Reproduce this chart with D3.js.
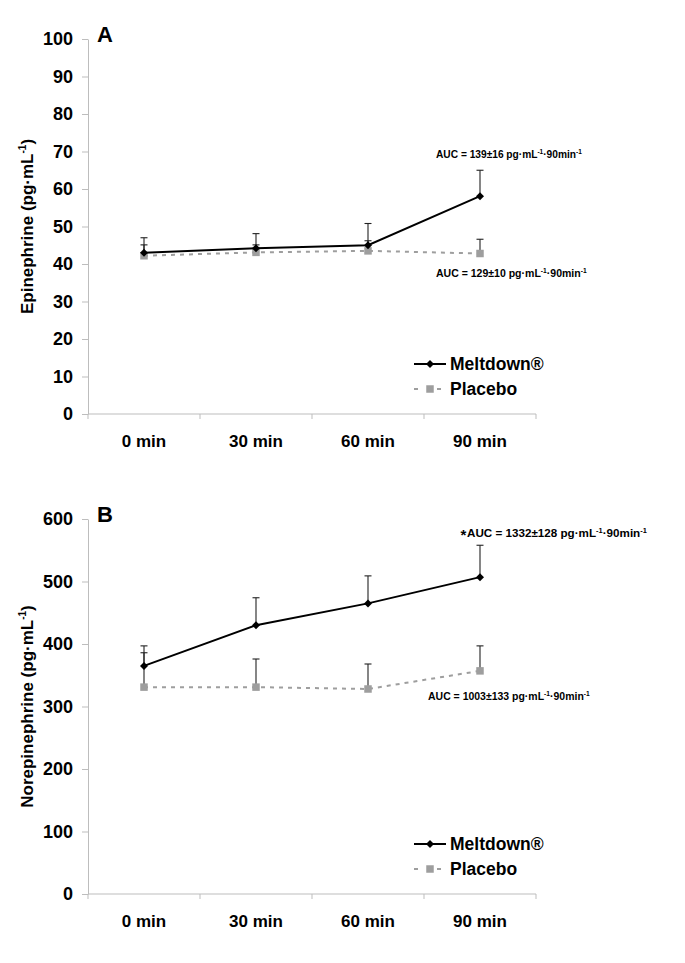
<!DOCTYPE html>
<html><head><meta charset="utf-8">
<script src="https://cdn.jsdelivr.net/npm/d3@7"></script>
<style>
body{margin:0;background:#fff}
svg{display:block}
text{font-family:"Liberation Sans",Arial,Helvetica,sans-serif;font-weight:bold;fill:#000}
</style>
</head><body>
<svg id="c" width="685" height="963"></svg>
<script>
// ---- data ----
const categories = ["0 min", "30 min", "60 min", "90 min"];
const seriesNames = ["Meltdown®", "Placebo"];

const epiTicks = [0, 10, 20, 30, 40, 50, 60, 70, 80, 90, 100];
const epiMeltdown   = [43.0, 44.2, 45.0, 58.1];
const epiMeltdownSE = [4.0, 3.9, 5.8, 6.9];
const epiPlacebo    = [42.2, 43.1, 43.5, 42.8];
const epiPlaceboSE  = [2.9, 2.0, 2.7, 3.8];

const norTicks = [0, 100, 200, 300, 400, 500, 600];
const norMeltdown   = [365, 430, 465, 507];
const norMeltdownSE = [32, 44, 44, 51];
const norPlacebo    = [331, 331, 328, 357];
const norPlaceboSE  = [55, 45, 40, 40];

const aucEpiMeltdown = "139±16";
const aucEpiPlacebo  = "129±10";
const aucNorMeltdown = "1332±128";
const aucNorPlacebo  = "1003±133";

// ---- drawing ----
const svg = d3.select("#c");
const X0 = 88, X1 = 536;
const x = d3.scaleBand().domain(categories).range([X0, X1]).padding(0);
const cx = c => x(c) + x.bandwidth() / 2;
const AXIS = "#bdbdbd", GREY = "#9e9e9e";

function aucText(g, n) {
  if (n.star) {
    g.append("text").attr("x", n.x - 6.5).attr("y", n.y + 3).text("*").style("font-size", "15px");
  }
  const wrap = g.append("g");
  const t = wrap.append("text").attr("x", 0).attr("y", 0).style("font-size", "11px");
  t.append("tspan").text("AUC = " + n.val + " pg·mL");
  t.append("tspan").text("-1").style("font-size", "7px").attr("dy", -4);
  t.append("tspan").text("·90min").attr("dy", 4);
  t.append("tspan").text("-1").style("font-size", "7px").attr("dy", -4);
  const w = t.node().getBBox().width;
  const sx = n.w / w;
  wrap.attr("transform", `translate(${n.x},${n.y}) scale(${sx},1)`);
}

function panel(p) {
  const g = svg.append("g");
  const y = d3.scaleLinear().domain([0, p.yMax]).range([p.bottom, p.top]);

  // y axis
  const ya = g.append("g").attr("transform", `translate(${X0},0)`)
    .call(d3.axisLeft(y).tickValues(p.ticks).tickSize(6).tickSizeOuter(0).tickPadding(9));
  ya.selectAll("path,line").attr("stroke", AXIS);
  ya.selectAll("text").style("font-size", "18px");
  ya.attr("font-family", null).attr("font-size", null);

  // x axis (labels at band centres, ticks at band edges)
  const xa = g.append("g").attr("transform", `translate(0,${p.bottom})`)
    .call(d3.axisBottom(x).tickSize(0).tickSizeOuter(0).tickPadding(21));
  xa.select("path").attr("stroke", AXIS).attr("d", `M${X0},0H${X1}`);
  xa.selectAll("text").style("font-size", "17px");
  xa.attr("font-family", null).attr("font-size", null);
  const edges = categories.map(c => x(c)).concat([X1]);
  g.selectAll(".xt").data(edges).join("line")
    .attr("x1", d => d).attr("x2", d => d)
    .attr("y1", p.bottom).attr("y2", p.bottom + 5)
    .attr("stroke", AXIS);

  // panel letter
  g.append("text").attr("x", 97).attr("y", p.top + 3).text(p.letter).style("font-size", "22px");

  // y title
  const mid = (p.top + p.bottom) / 2;
  const yt = g.append("text").attr("transform", `translate(33,${mid}) rotate(-90)`)
    .attr("text-anchor", "middle").style("font-size", "17px");
  yt.append("tspan").text(p.title + " (pg·mL");
  yt.append("tspan").text("-1").style("font-size", "10px").attr("dy", -7);
  yt.append("tspan").text(")").attr("dy", 7);

  const series = [
    {vals: p.placebo, se: p.placeboSE, color: GREY, dash: "4,5", marker: "square"},
    {vals: p.meltdown, se: p.meltdownSE, color: "#000", dash: null, marker: "diamond"}
  ];

  // error bars
  series.forEach(s => {
    const eb = g.append("g");
    categories.forEach((c, i) => {
      const xx = cx(c), y0 = y(s.vals[i]), y1 = y(s.vals[i] + s.se[i]);
      eb.append("line").attr("x1", xx).attr("x2", xx).attr("y1", y0).attr("y2", y1)
        .attr("stroke", "#222").attr("stroke-width", 1.1);
      eb.append("line").attr("x1", xx - 3.5).attr("x2", xx + 3.5).attr("y1", y1).attr("y2", y1)
        .attr("stroke", "#222").attr("stroke-width", 1.1);
    });
  });

  const line = d3.line().x((d, i) => cx(categories[i])).y(d => y(d));
  series.forEach(s => {
    g.append("path").attr("d", line(s.vals)).attr("fill", "none")
      .attr("stroke", s.color).attr("stroke-width", 2)
      .attr("stroke-dasharray", s.dash);
    s.vals.forEach((v, i) => drawMarker(g, cx(categories[i]), y(v), s.marker, s.color));
  });

  // AUC notes
  p.notes.forEach(n => aucText(g, n));

  // legend
  const lx = 414, ly = p.bottom - 50;
  g.append("line").attr("x1", lx).attr("x2", lx + 32).attr("y1", ly).attr("y2", ly)
    .attr("stroke", "#000").attr("stroke-width", 2);
  drawMarker(g, lx + 16, ly, "diamond", "#000");
  g.append("text").attr("x", lx + 36).attr("y", ly).attr("dy", "0.36em")
    .style("font-size", "17.5px").text(seriesNames[0]);
  const ly2 = ly + 25;
  [[lx, lx + 4], [lx + 23, lx + 27]].forEach(sg =>
    g.append("line").attr("x1", sg[0]).attr("x2", sg[1]).attr("y1", ly2).attr("y2", ly2)
      .attr("stroke", GREY).attr("stroke-width", 2));
  drawMarker(g, lx + 16, ly2, "square", GREY);
  g.append("text").attr("x", lx + 36).attr("y", ly2).attr("dy", "0.36em")
    .style("font-size", "17.5px").text(seriesNames[1]);
}

function drawMarker(g, px, py, type, color) {
  if (type === "diamond") {
    g.append("path").attr("d", `M${px},${py - 4}L${px + 4},${py}L${px},${py + 4}L${px - 4},${py}Z`)
      .attr("fill", color);
  } else {
    g.append("rect").attr("x", px - 3.75).attr("y", py - 3.75).attr("width", 7.5).attr("height", 7.5)
      .attr("fill", color);
  }
}

panel({
  top: 39, bottom: 414, yMax: 100, ticks: epiTicks, letter: "A", title: "Epinephrine",
  meltdown: epiMeltdown, meltdownSE: epiMeltdownSE, placebo: epiPlacebo, placeboSE: epiPlaceboSE,
  notes: [{x: 436, y: 158, w: 146, val: aucEpiMeltdown}, {x: 436, y: 277, w: 151, val: aucEpiPlacebo}]
});
panel({
  top: 519, bottom: 894, yMax: 600, ticks: norTicks, letter: "B", title: "Norepinephrine",
  meltdown: norMeltdown, meltdownSE: norMeltdownSE, placebo: norPlacebo, placeboSE: norPlaceboSE,
  notes: [{x: 467, y: 537, w: 180, val: aucNorMeltdown, star: true}, {x: 428, y: 700, w: 162, val: aucNorPlacebo}]
});
</script>
</body></html>
